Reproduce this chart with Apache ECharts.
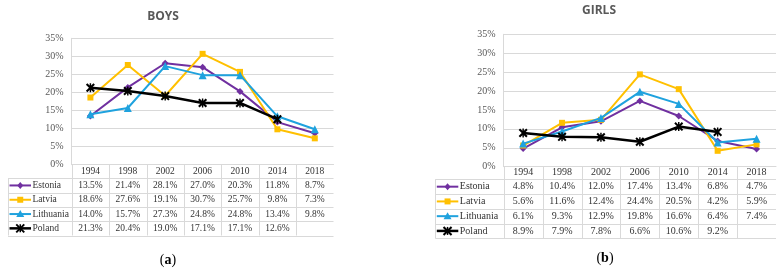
<!DOCTYPE html>
<html>
<head>
<meta charset="utf-8">
<script src="https://cdn.jsdelivr.net/npm/echarts@6/dist/echarts.min.js"></script>
<style>
html,body{margin:0;padding:0;background:#fff}
#main{width:784px;height:272px}
</style>
</head>
<body>
<div id="main"></div>
<script>
var years=['1994','1998','2002','2006','2010','2014','2018']
var countries=['Estonia','Latvia','Lithuania','Poland']
var boysEstonia=[13.5,21.4,28.1,27.0,20.3,11.8,8.7]
var boysLatvia=[18.6,27.6,19.1,30.7,25.7,9.8,7.3]
var boysLithuania=[14.0,15.7,27.3,24.8,24.8,13.4,9.8]
var boysPoland=[21.3,20.4,19.0,17.1,17.1,12.6,null]
var girlsEstonia=[4.8,10.4,12.0,17.4,13.4,6.8,4.7]
var girlsLatvia=[5.6,11.6,12.4,24.4,20.5,4.2,5.9]
var girlsLithuania=[6.1,9.3,12.9,19.8,16.6,6.4,7.4]
var girlsPoland=[8.9,7.9,7.8,6.6,10.6,9.2,null]
var yTicks=[0,5,10,15,20,25,30,35]

var colors=['#7030A0','#FFC000','#1FA2DE','#000000']
var symbols=['diamond','rect','triangle',
    'path://M0,1.6L1.6,0L5,3.4L8.4,0L10,1.6L6.6,5L10,8.4L8.4,10L5,6.6L1.6,10L0,8.4L3.4,5ZM4.2,0L5.8,0L5.8,10L4.2,10Z']
var symSize=[7,6,8,9]
var serif='"Liberation Serif","Times New Roman",serif'
var lineGray='#D9D9D9'
var textColor='#333333'

//两块面板的位置
var panels=[
    {title:'BOYS',tx:163,ty:16.7,tag:'a',tagX:168,tagY:260,left:71.7,right:333.5,top:38.3,bottom:164.7,
     headBottom:178.3,rowH:14.3,tableLeft:8,font:9.5,labelMargin:6.8,
     data:[boysEstonia,boysLatvia,boysLithuania,boysPoland]},
    {title:'GIRLS',tx:599,ty:11,tag:'b',tagX:605,tagY:258,left:503.7,right:776,top:34.3,bottom:166.7,
     headBottom:179.3,rowH:14.75,tableLeft:435.3,font:10,labelMargin:6,
     data:[girlsEstonia,girlsLatvia,girlsLithuania,girlsPoland]}
]

var myChart=echarts.init(document.getElementById('main'),null,{renderer:'canvas'})

function $each(arr,fn){for(var i=0;i<arr.length;i++)fn(arr[i],i)}

//坐标轴和折线
function buildOption(){
    var grid=[],xAxis=[],yAxis=[],series=[]
    $each(panels,function(p,i){
        grid.push({left:p.left,top:p.top,width:p.right-p.left,height:p.bottom-p.top})
        xAxis.push({
            type:'category',gridIndex:i,data:years,boundaryGap:true,
            axisLine:{lineStyle:{color:lineGray,width:1}},
            axisTick:{show:false},
            axisLabel:{fontFamily:serif,fontSize:p.font,color:textColor,margin:p.labelMargin,verticalAlign:'middle'}
        })
        yAxis.push({
            type:'value',gridIndex:i,min:yTicks[0],max:yTicks[yTicks.length-1],interval:5,
            axisLine:{show:true,lineStyle:{color:lineGray,width:1}},
            axisTick:{show:false},
            splitLine:{lineStyle:{color:lineGray,width:1}},
            axisLabel:{fontFamily:serif,fontSize:10,color:'#595959',margin:8,formatter:'{value}%'}
        })
        $each(countries,function(c,j){
            series.push({
                name:c,type:'line',xAxisIndex:i,yAxisIndex:i,data:p.data[j],
                symbol:symbols[j],symbolSize:symSize[j],showAllSymbol:true,
                lineStyle:{color:colors[j],width:j==3?2.5:2},
                itemStyle:{color:colors[j]},
                z:2+j,animation:false
            })
        })
    })
    return {animation:false,grid:grid,xAxis:xAxis,yAxis:yAxis,series:series}
}

//表格、图例、标题
function buildGraphic(){
    var els=[]
    $each(panels,function(p,i){
        var xs=years.map(function(y){return myChart.convertToPixel({xAxisIndex:i},y)})
        var band=xs[1]-xs[0]
        var tableBottom=p.headBottom+countries.length*p.rowH
        els.push({type:'text',style:{text:p.title,x:p.tx,y:p.ty,fill:'#595959',
            font:'bold 12px "Open Sans","DejaVu Sans",sans-serif',align:'center',verticalAlign:'middle',
            textAlign:'center',textVerticalAlign:'middle'}})
        els.push({type:'text',style:{x:p.tagX,y:p.tagY,align:'center',verticalAlign:'middle',
            textAlign:'center',textVerticalAlign:'middle',
            text:'{n|(}{b|'+p.tag+'}{n|)}',
            rich:{n:{fontFamily:serif,fontSize:14,color:'#000'},b:{fontFamily:serif,fontSize:14,fontWeight:'bold',color:'#000'}}}})
        // 横线
        for(var k=0;k<=countries.length;k++){
            var y=Math.round(p.headBottom+k*p.rowH)+0.5
            els.push({type:'line',shape:{x1:p.tableLeft,y1:y,x2:p.right,y2:y},style:{stroke:lineGray,lineWidth:1}})
        }
        // 竖线
        for(var k=0;k<xs.length;k++){
            var x=Math.round(xs[k]-band/2)+0.5
            els.push({type:'line',shape:{x1:x,y1:p.bottom,x2:x,y2:tableBottom},style:{stroke:lineGray,lineWidth:1}})
        }
        var lx=Math.round(p.tableLeft)+0.5
        els.push({type:'line',shape:{x1:lx,y1:p.headBottom,x2:lx,y2:tableBottom},style:{stroke:lineGray,lineWidth:1}})
        // 行
        $each(countries,function(c,j){
            var cy=p.headBottom+(j+0.5)*p.rowH
            var kx1=p.tableLeft+1.5,kx2=p.tableLeft+23,mx=(kx1+kx2)/2
            els.push({type:'line',shape:{x1:kx1,y1:cy,x2:kx2,y2:cy},style:{stroke:colors[j],lineWidth:j==3?2.5:2},z:10})
            els.push(keyMarker(j,mx,cy))
            els.push({type:'text',style:{text:c,x:p.tableLeft+24.5,y:cy,fill:textColor,
                font:p.font+'px '+serif,align:'left',verticalAlign:'middle',textAlign:'left',textVerticalAlign:'middle'},z:10})
            $each(p.data[j],function(v,t){
                if(v==null) return
                els.push({type:'text',style:{text:v.toFixed(1)+'%',x:xs[t],y:cy,fill:textColor,
                    font:p.font+'px '+serif,align:'center',verticalAlign:'middle',textAlign:'center',textVerticalAlign:'middle'},z:10})
            })
        })
    })
    return els
}

function keyMarker(j,x,y){
    var c=colors[j]
    if(j==0) return {type:'polygon',shape:{points:[[x,y-3.5],[x+3,y],[x,y+3.5],[x-3,y]]},style:{fill:c},z:11}
    if(j==1) return {type:'rect',shape:{x:x-3,y:y-3,width:6,height:6},style:{fill:c},z:11}
    if(j==2) return {type:'polygon',shape:{points:[[x,y-4],[x+4,y+3],[x-4,y+3]]},style:{fill:c},z:11}
    return {type:'group',z:11,children:[
        {type:'line',shape:{x1:x-4,y1:y-4,x2:x+4,y2:y+4},style:{stroke:c,lineWidth:2},z:11},
        {type:'line',shape:{x1:x-4,y1:y+4,x2:x+4,y2:y-4},style:{stroke:c,lineWidth:2},z:11},
        {type:'line',shape:{x1:x,y1:y-4,x2:x,y2:y+4},style:{stroke:c,lineWidth:1.5},z:11}
    ]}
}

myChart.setOption(buildOption())
myChart.setOption({graphic:{elements:buildGraphic()}})
</script>
</body>
</html>
